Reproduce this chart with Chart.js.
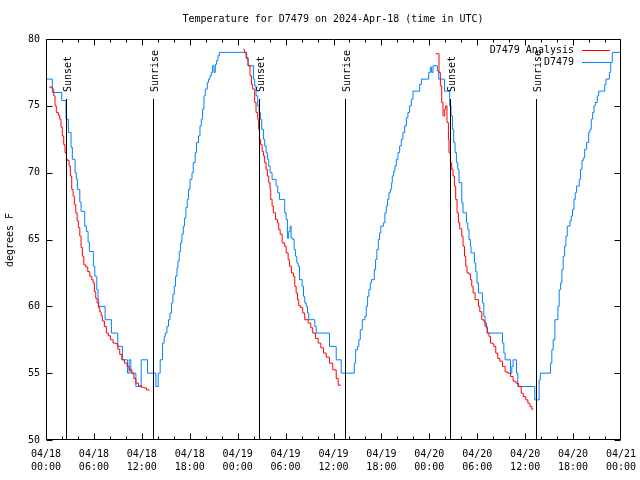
<!DOCTYPE html>
<html><head><meta charset="utf-8">
<script src="https://cdn.jsdelivr.net/npm/chart.js@4/dist/chart.umd.min.js"></script>
<style>html,body{margin:0;padding:0;background:#fff}#wrap{width:640px;height:480px}</style>
</head><body><div id="wrap"><canvas id="c" width="640" height="480"></canvas></div>
<script>
const chartTitle = 'Temperature for D7479 on 2024-Apr-18 (time in UTC)';
const yAxisTitle = 'degrees F';
const seriesNames = ['D7479 Analysis', 'D7479'];
const xTickHours = [0, 6, 12, 18, 24, 30, 36, 42, 48, 54, 60, 66, 72];
const xTickDates = ['04/18','04/18','04/18','04/18','04/19','04/19','04/19','04/19','04/20','04/20','04/20','04/20','04/21'];
const xTickTimes = ['00:00','06:00','12:00','18:00','00:00','06:00','12:00','18:00','00:00','06:00','12:00','18:00','00:00'];
const yTickValues = [50, 55, 60, 65, 70, 75, 80];
const sunEventHours = [2.55, 13.34, 26.63, 37.43, 50.6, 61.4];
const sunEventLabels = ['Sunset', 'Sunrise', 'Sunset', 'Sunrise', 'Sunset', 'Sunrise'];

// observed station temperature: [hours since 04/18 00:00 UTC, degrees F]
const observed = [
[0.00,77],[0.79,76],[1.97,75.4],[2.51,74],[2.80,73],[3.14,71.9],[3.30,71],[3.64,70],[3.80,69.5],[3.93,68.75],
[4.23,67.8],[4.39,67.1],[4.85,66],[5.06,65.6],[5.27,64.8],[5.43,64.1],[5.93,63],[6.11,62.25],[6.36,61.25],[6.52,60.5],
[6.61,60],[7.40,59],[8.19,58],[8.99,57],[9.57,56],[10.20,55],[10.41,56],[10.62,55],[11.25,54],[11.92,56],
[12.71,55],[13.76,54],[14.05,55],[14.30,56],[14.59,57.25],[14.80,57.75],[14.93,58],[15.14,58.5],[15.34,59],[15.52,59.5],
[15.72,60.25],[15.89,60.9],[16.06,61.5],[16.22,62.25],[16.40,62.9],[16.52,63.4],[16.68,64.1],[16.85,64.75],[17.02,65.4],[17.19,66],
[17.35,66.6],[17.52,67.4],[17.69,68],[17.85,68.75],[18.03,69.5],[18.28,70],[18.44,70.75],[18.69,71.5],[18.85,72.25],[19.10,72.75],
[19.28,73.5],[19.44,74],[19.61,74.75],[19.78,75.75],[19.94,76.25],[20.20,76.75],[20.36,77],[20.53,77.25],[20.70,77.5],[20.86,78],
[21.04,77.5],[21.20,78.1],[21.36,78.4],[21.54,78.75],[21.70,79],[24.96,79],[25.13,78.5],[25.30,78],[25.97,77],[26.13,76.5],
[26.30,75.75],[26.51,75],[26.68,74.5],[26.84,74],[27.01,73.25],[27.22,72.5],[27.38,72],[27.56,71.5],[27.72,71],[27.89,70.5],
[28.06,70],[28.31,69.5],[28.81,69],[29.02,68.5],[29.23,68],[29.89,67],[30.07,66.5],[30.23,65.1],[30.39,65.6],[30.57,66],
[30.69,65.1],[30.90,65],[31.07,64.25],[31.23,63.75],[31.40,63.25],[31.57,63],[31.74,62],[32.07,61.5],[32.24,60.75],[32.40,60.25],
[32.58,60],[32.74,59.5],[32.90,59],[33.66,58.5],[33.83,58],[35.50,57],[36.34,56],[36.97,55],[38.60,55.75],[38.77,56.75],
[39.01,57],[39.17,57.5],[39.35,58.25],[39.60,59],[39.93,59.25],[40.10,60],[40.27,60.75],[40.43,61.25],[40.61,61.75],[40.77,62],
[41.11,62.75],[41.27,63.5],[41.43,64.25],[41.61,65],[41.77,65.5],[41.93,66],[42.27,66.25],[42.44,67],[42.61,67.5],[42.77,68],
[42.94,68.5],[43.11,68.75],[43.28,69.25],[43.36,69.75],[43.53,70.1],[43.69,70.5],[43.87,71],[44.07,71.5],[44.28,72],[44.49,72.5],
[44.69,73],[44.91,73.5],[45.12,74.1],[45.32,74.5],[45.53,75],[45.75,75.5],[45.95,76.1],[46.79,76.6],[47.00,77],[47.92,77.5],
[48.13,77.9],[48.29,77.5],[48.46,78],[49.01,77.6],[49.17,77],[49.89,76.1],[50.55,75],[50.72,74.25],[50.89,73.25],[51.05,72.25],
[51.22,71.5],[51.39,70.75],[51.56,70.25],[51.72,69.25],[52.06,67.75],[52.22,67],[52.65,66.25],[52.81,65.75],[52.97,65],[53.15,64.5],
[53.22,64],[53.65,63.25],[53.81,62.6],[53.97,61.75],[54.15,61],[54.65,60.25],[54.82,59.25],[54.98,58.75],[55.16,58.4],[55.28,58],
[57.16,57.25],[57.33,56.5],[57.49,56],[58.17,55],[58.33,55.5],[58.49,56],[58.92,55],[59.08,54],[61.21,53],[61.75,54.5],
[61.90,55],[63.18,55.75],[63.34,56.75],[63.51,57.5],[63.72,59],[64.10,60],[64.26,61.25],[64.44,61.75],[64.60,62.75],[64.76,63.75],
[64.94,64.5],[65.10,65.25],[65.27,66],[65.61,66.4],[65.77,66.75],[65.94,67.25],[66.11,68],[66.27,68.5],[66.44,69],[66.77,69.5],
[66.94,70.25],[67.11,70.9],[67.27,71.1],[67.45,71.75],[67.70,72.25],[67.95,73],[68.11,73.25],[68.28,74],[68.45,74.5],[68.62,75],
[68.78,75.25],[69.03,75.75],[69.21,76.1],[69.96,76.6],[70.12,77],[70.54,77.5],[70.71,78.25],[70.91,79],[72.00,79]
];

// analysis temperature, three overnight runs
const analysisNight1 = [
[0.38,76.4],[0.79,76.25],[0.97,75.75],[1.13,75],[1.29,74.5],[1.54,74.3],[1.72,74],[1.88,73.4],[2.04,72.75],[2.22,72.1],
[2.38,71.5],[2.55,71],[2.72,70.9],[2.89,70.5],[3.05,69.75],[3.22,68.75],[3.39,68.25],[3.55,67.6],[3.73,67],[3.89,66.4],
[4.05,65.9],[4.23,65.25],[4.39,64.4],[4.55,63.75],[4.73,63.1],[4.98,62.95],[5.23,62.6],[5.48,62.25],[5.73,62],[5.90,61.75],
[6.06,61.1],[6.23,60.6],[6.40,60.25],[6.56,59.9],[6.74,59.6],[6.90,59.3],[7.06,58.9],[7.31,58.5],[7.56,58],[7.81,57.8],
[8.07,57.5],[8.40,57.25],[8.74,57.2],[8.99,56.8],[9.24,56.4],[9.50,56],[9.82,55.75],[10.16,55.5],[10.41,55.25],[10.75,55],
[11.00,54.6],[11.25,54.25],[11.58,54.05],[11.92,53.95],[12.26,53.9],[12.58,53.75],[12.92,53.7]
];
const analysisNight2 = [
[24.71,79.2],[24.87,79],[25.05,78.6],[25.30,78],[25.55,77.25],[25.72,76.6],[25.88,76.25],[26.13,75.25],[26.30,74.5],[26.51,74],
[26.63,73.25],[26.72,72.5],[26.88,72.1],[27.06,71.6],[27.22,71.25],[27.38,70.75],[27.56,70.25],[27.72,69.75],[27.89,69.25],[28.06,68.75],
[28.14,68],[28.31,67.5],[28.47,67],[28.73,66.5],[28.98,66.25],[29.14,65.75],[29.32,65.4],[29.57,64.75],[29.89,64.5],[30.07,64],
[30.32,63.5],[30.48,63],[30.73,62.5],[30.98,62.25],[31.15,61.5],[31.32,61],[31.49,60.5],[31.65,60.05],[31.90,59.9],[32.15,59.5],
[32.40,59],[32.82,58.75],[33.15,58.4],[33.40,58],[33.74,57.6],[34.08,57.25],[34.41,56.9],[34.75,56.5],[35.09,56.2],[35.50,55.75],
[35.91,55.25],[36.34,54.6],[36.59,54.1],[36.92,54.1]
];
const analysisNight3 = [
[48.80,78.9],[49.08,78.9],[49.21,77.5],[49.38,76.5],[49.55,75.25],[49.71,74.25],[49.92,74.75],[50.05,75],[50.21,73.75],[50.39,72.5],
[50.46,71.5],[50.64,70.75],[50.80,70.25],[50.97,69.75],[51.14,69],[51.30,68],[51.47,67],[51.64,66.25],[51.81,65.8],[52.06,65.25],
[52.22,64.5],[52.40,63.75],[52.56,63],[52.72,62.5],[52.97,62.4],[53.15,62],[53.31,61.5],[53.48,61],[53.73,60.5],[54.15,60],
[54.32,59.6],[54.57,59],[54.82,58.9],[54.98,58.5],[55.23,58],[55.48,57.75],[55.66,57.25],[55.91,57.2],[56.07,57],[56.32,56.5],
[56.57,56.1],[56.82,55.9],[57.16,55.5],[57.49,55.1],[57.83,55],[58.17,54.75],[58.49,54.4],[58.83,54.25],[59.17,54],[59.50,53.5],
[59.75,53.25],[60.08,53],[60.34,52.75],[60.59,52.5],[60.84,52.3],[60.97,52.35]
];

const FONT = 'DejaVu Sans Mono, Liberation Mono, monospace';
const RED = '#ff0000';
const BLUE = 'rgb(0,128,255)';
const SUN_LINE_TOP = 75.5;

const toPts = arr => arr.map(p => ({x: p[0], y: p[1]}));
const analysisPts = [].concat(toPts(analysisNight1), [{x: 13.1, y: null}], toPts(analysisNight2), [{x: 37.1, y: null}], toPts(analysisNight3));

const frame = {
  id: 'frame',
  afterDatasetsDraw(chart) {
    const ctx = chart.ctx;
    const xs = chart.scales.x, ys = chart.scales.y;
    const a = chart.chartArea;
    const L = Math.round(a.left), R = Math.round(a.right), T = Math.round(a.top), B = Math.round(a.bottom);
    const clampX = px => Math.min(Math.max(px, L + 0.5), R - 0.5);
    ctx.save();
    ctx.strokeStyle = '#000'; ctx.lineWidth = 1;
    ctx.beginPath();
    const yTop = Math.round(ys.getPixelForValue(SUN_LINE_TOP));
    sunEventHours.forEach(h => {
      const px = Math.round(xs.getPixelForValue(h)) + 0.5;
      ctx.moveTo(px, yTop); ctx.lineTo(px, B);
    });
    ctx.rect(L + 0.5, T + 0.5, R - L - 1, B - T - 1);
    for (let h = 0; h <= 72; h += 2) {
      const px = clampX(Math.round(xs.getPixelForValue(h)) + 0.5);
      const len = (h % 6 === 0) ? 6 : 3;
      ctx.moveTo(px, B - 0.5); ctx.lineTo(px, B - 0.5 - len);
      ctx.moveTo(px, T + 0.5); ctx.lineTo(px, T + 0.5 + len);
    }
    yTickValues.forEach(v => {
      const py = Math.round(ys.getPixelForValue(v)) + 0.5;
      ctx.moveTo(L + 0.5, py); ctx.lineTo(L + 6.5, py);
      ctx.moveTo(R - 0.5, py); ctx.lineTo(R - 6.5, py);
    });
    ctx.stroke();

    ctx.fillStyle = '#000';
    ctx.font = '10px ' + FONT;
    ctx.textAlign = 'center'; ctx.textBaseline = 'middle';
    ctx.fillText(chartTitle, 333, 19);
    ctx.save();
    ctx.translate(10, 240); ctx.rotate(-Math.PI / 2);
    ctx.fillText(yAxisTitle, 0, 0);
    ctx.restore();
    sunEventHours.forEach((h, i) => {
      const px = Math.round(xs.getPixelForValue(h)) + 0.5;
      ctx.save();
      ctx.translate(px + 1.5, 92); ctx.rotate(-Math.PI / 2);
      ctx.textAlign = 'left'; ctx.textBaseline = 'middle';
      ctx.fillText(sunEventLabels[i], 0, 0);
      ctx.restore();
    });
    const legendColors = [RED, BLUE];
    seriesNames.forEach((name, i) => {
      const y = 50 + i * 12;
      ctx.textAlign = 'right'; ctx.textBaseline = 'middle';
      ctx.fillStyle = '#000';
      ctx.fillText(name, 574, y);
      ctx.strokeStyle = legendColors[i];
      ctx.beginPath(); ctx.moveTo(582, y + 0.5); ctx.lineTo(610, y + 0.5); ctx.stroke();
    });
    ctx.restore();
  }
};

new Chart(document.getElementById('c'), {
  type: 'line',
  data: {
    datasets: [
      { label: seriesNames[0], data: analysisPts, borderColor: RED, backgroundColor: RED, borderWidth: 1, pointRadius: 0, stepped: true, spanGaps: false, fill: false, order: 1 },
      { label: seriesNames[1], data: toPts(observed), borderColor: BLUE, backgroundColor: BLUE, borderWidth: 1, pointRadius: 0, stepped: true, fill: false, order: 2 }
    ]
  },
  options: {
    responsive: false, animation: false, devicePixelRatio: 1,
    layout: { padding: { top: 39, right: 19, left: 0, bottom: 0 } },
    plugins: { legend: { display: false }, title: { display: false }, tooltip: { enabled: false } },
    scales: {
      x: {
        type: 'linear', min: 0, max: 72,
        afterBuildTicks: s => { s.ticks = xTickHours.map(v => ({ value: v })); },
        afterFit: s => { s.height = 40; s.paddingLeft = 0; s.paddingRight = 0; },
        grid: { display: false, drawTicks: false }, border: { display: false },
        ticks: { autoSkip: false, maxRotation: 0, minRotation: 0, padding: 7.5, color: '#000',
          font: { family: FONT, size: 10, lineHeight: 1.3 },
          callback: (v, i) => [xTickDates[i], xTickTimes[i]] }
      },
      y: {
        min: 50, max: 80,
        afterBuildTicks: s => { s.ticks = yTickValues.map(v => ({ value: v })); },
        afterFit: s => { s.width = 46; s.paddingTop = 0; s.paddingBottom = 0; },
        grid: { display: false, drawTicks: false }, border: { display: false },
        ticks: { padding: 6, color: '#000', font: { family: FONT, size: 10 }, callback: v => String(v) }
      }
    }
  },
  plugins: [frame]
});
</script></body></html>
